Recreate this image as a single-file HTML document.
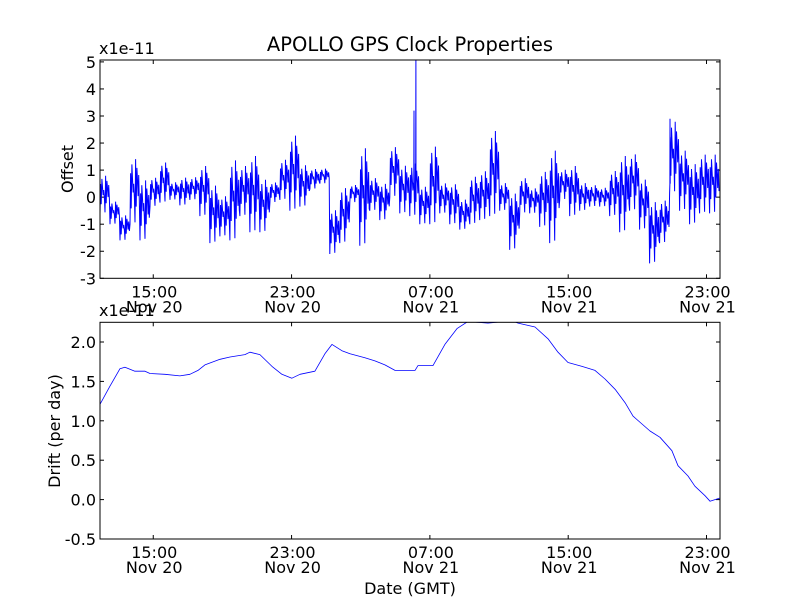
<!DOCTYPE html>
<html><head><meta charset="utf-8">
<style>
body{margin:0;background:#fff;}
svg text{font-family:"DejaVu Sans","Liberation Sans",sans-serif;fill:#000;}
</style></head>
<body>
<svg id="chart" width="800" height="600" viewBox="0 0 800 600" xmlns="http://www.w3.org/2000/svg">
<rect width="800" height="600" fill="#fff"/>
<text x="410" y="51" font-size="19.5" text-anchor="middle">APOLLO GPS Clock Properties</text>
<g id="top"></g>
<g id="bot"></g>
<text transform="translate(73,169) rotate(-90)" font-size="16" text-anchor="middle">Offset</text>
<text transform="translate(60,431) rotate(-90)" font-size="16" text-anchor="middle">Drift (per day)</text>
<text x="410" y="594" font-size="16" text-anchor="middle">Date (GMT)</text>
<text x="99" y="54" font-size="16">x1e-11</text>
<text x="99" y="316" font-size="16">x1e-11</text>
</svg>
<script>
// hours relative to 15:00 Nov 20
const xTickHours=[0,8,16,24,32];
const xTickTimes=["15:00","23:00","07:00","15:00","23:00"];
const xTickDates=["Nov 20","Nov 20","Nov 21","Nov 21","Nov 21"];
const offTicks=[-3,-2,-1,0,1,2,3,4,5];
const driftTicks=[-0.5,0.0,0.5,1.0,1.5,2.0];
const driftTickLabels=["-0.5","0.0","0.5","1.0","1.5","2.0"];
// offset: binned envelope (bin start hour, bin width hours)
const offBinStart=-3.08, offBinWidth=0.578;
const offHi=[0.9,-0.1,-0.6,1.6,0.8,0.8,1.4,0.6,0.8,0.8,1.3,0.6,0.15,1.6,1.3,1.75,0.8,0.6,1.5,2.5,1.3,1.1,1.1,-0.35,0.5,0.5,2.1,0.8,0.6,2.0,1.3,
 1.4,0.5,2.1,0.6,0.6,0.0,0.9,1.1,2.7,0.6,0.3,0.8,0.4,1.1,2.0,1.1,1.3,0.6,0.5,0.4,1.1,1.75,1.75,0.8,0.0,0.0,3.0,1.9,1.4,1.75,1.75];
const offLo=[-0.6,-1.0,-1.6,-1.0,-1.6,-0.35,-0.2,-0.1,-0.3,-0.1,-0.7,-1.7,-1.45,-1.6,-0.7,-1.3,-1.3,-0.2,-0.1,-0.5,-0.35,0.3,0.5,-2.1,-1.7,-0.2,-1.8,-0.5,-0.85,0.0,-0.6,
 -0.7,-1.0,-1.0,-0.6,-1.0,-1.2,-1.0,-0.85,-0.7,-0.5,-1.95,-0.6,-0.6,-1.1,-1.7,-0.1,-0.7,-0.5,-0.35,-0.35,-0.7,-1.3,-0.5,-1.2,-2.45,-1.7,0.15,-0.5,-1.0,-0.6,-0.6];
const spikeHours=[15.08,15.19,29.89];
const spikeVals=[3.2,5.1,2.9];
// drift
const driftHours=[-3.08,-2.50,-1.93,-1.64,-1.06,-0.48,-0.19,0.68,1.54,2.12,2.59,2.99,3.86,4.44,5.30,5.59,6.17,6.87,7.44,8.02,8.49,9.35,9.93,10.34,10.91,11.38,12.24,12.82,13.40,13.98,14.85,15.14,15.31,16.18,16.87,17.57,18.20,19.36,20.75,21.10,22.08,22.83,23.41,23.99,24.80,25.55,26.13,26.71,27.29,27.75,28.27,28.73,29.31,30.00,30.35,30.93,31.33,31.91,32.20,32.49,32.78];
const driftVals=[1.21,1.44,1.66,1.68,1.63,1.63,1.60,1.59,1.57,1.59,1.64,1.71,1.78,1.81,1.84,1.87,1.84,1.69,1.59,1.54,1.59,1.63,1.85,1.97,1.89,1.85,1.80,1.76,1.71,1.64,1.64,1.64,1.70,1.70,1.97,2.17,2.26,2.24,2.27,2.24,2.19,2.04,1.87,1.74,1.69,1.64,1.53,1.40,1.23,1.06,0.96,0.87,0.79,0.62,0.43,0.30,0.17,0.05,-0.02,0.00,0.02];

const NS="http://www.w3.org/2000/svg";
const L=100,R=720;
const xMin=-3.08,xMax=32.78;
const xs=h=>L+(h-xMin)/(xMax-xMin)*(R-L);
function mk(tag,attrs,parent){const e=document.createElementNS(NS,tag);for(const k in attrs)e.setAttribute(k,attrs[k]);parent.appendChild(e);return e;}

function axes(g,top,bot,yMin,yMax,ticks,labels,prefix){
  const ys=v=>bot-(v-yMin)/(yMax-yMin)*(bot-top);
  ticks.forEach((t,i)=>{
    const y=ys(t);
    const a=mk('line',{x1:L,x2:L+4,y1:y,y2:y,stroke:'#000'},g);
    
    
    mk('line',{x1:R-4,x2:R,y1:y,y2:y,stroke:'#000'},g);
    const tx=mk('text',{x:L-4,y:y+6,'font-size':16,'text-anchor':'end'},g);
    tx.textContent=labels[i];
    
    
  });
  xTickHours.forEach((h,i)=>{
    const x=xs(h);
    mk('line',{x1:x,x2:x,y1:bot,y2:bot-4,stroke:'#000'},g);
    mk('line',{x1:x,x2:x,y1:top,y2:top+4,stroke:'#000'},g);
    const t1=mk('text',{x:x+1,y:bot+19,'font-size':16,'text-anchor':'middle'},g);
    t1.textContent=xTickTimes[i];
    
    
    const t2=mk('text',{x:x+1,y:bot+34,'font-size':16,'text-anchor':'middle'},g);
    t2.textContent=xTickDates[i];
    
    
  });
  return ys;
}

// top plot
const gt=document.getElementById('top');


const tTop=60,tBot=278.3;
const ysT=axes(gt,tTop,tBot,-3,5.07,offTicks,offTicks.map(String),'offset');
let pts=[];
const frac=[0.1,0.45,0.2,0.7,0.3,1,0.15,0.55,0.35,0.85,0.1,0.6,0.25,0.95,0.4,0.5];
const N=frac.length;
offHi.forEach((hi,i)=>{
  const lo=offLo[i], mid=(hi+lo)/2;
  for(let k=0;k<N;k++){
    const h=offBinStart+offBinWidth*(i+k/N);
    const up=(k%2===1)!==((k>>2)%2===1);
    const v=up? mid+(hi-mid)*frac[k] : mid-(mid-lo)*frac[(k+5)%N];
    pts.push([h,v]);
  }
});
spikeHours.forEach((h,i)=>{pts.push([h-0.01,(spikeVals[i]>4?1:0.5)]);pts.push([h,spikeVals[i]]);pts.push([h+0.01,0.5]);});
pts.sort((a,b)=>a[0]-b[0]);
const cp=mk('clipPath',{id:'ct'},gt);mk('rect',{x:L,y:tTop,width:R-L,height:tBot-tTop},cp);
const pl=mk('polyline',{points:pts.map(p=>xs(p[0]).toFixed(1)+','+ysT(p[1]).toFixed(1)).join(' '),fill:'none',stroke:'#0000ff','stroke-width':1,'clip-path':'url(#ct)'},gt);


const fr1=mk('rect',{x:L,y:tTop,width:R-L,height:tBot-tTop,fill:'none',stroke:'#000','stroke-width':1},gt);



// bottom plot
const gb=document.getElementById('bot');


const bTop=322.3,bBot=539;
const ysB=axes(gb,bTop,bBot,-0.5,2.25,driftTicks,driftTickLabels,'drift');
const cb=mk('clipPath',{id:'cb'},gb);mk('rect',{x:L,y:bTop,width:R-L,height:bBot-bTop},cb);
const dl=mk('polyline',{points:driftHours.map((h,i)=>xs(h).toFixed(1)+','+ysB(driftVals[i]).toFixed(1)).join(' '),fill:'none',stroke:'#0000ff','stroke-width':0.8,'stroke-linejoin':'round','clip-path':'url(#cb)'},gb);


const fr2=mk('rect',{x:L,y:bTop,width:R-L,height:bBot-bTop,fill:'none',stroke:'#000','stroke-width':1},gb);


</script>
</body></html>
